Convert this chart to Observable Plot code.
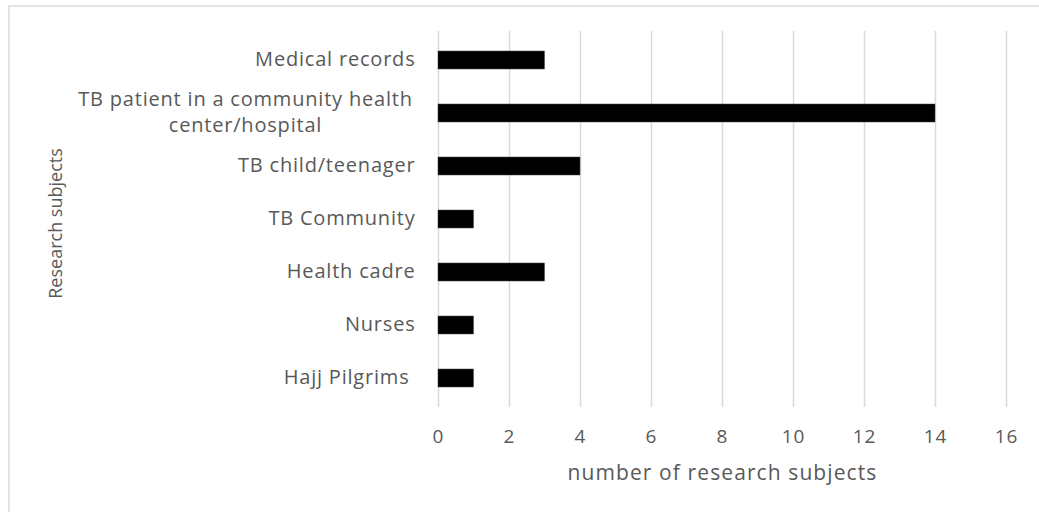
<!DOCTYPE html>
<html>
<head>
<meta charset="utf-8">
<script src="https://cdn.jsdelivr.net/npm/d3@7"></script>
<script src="https://cdn.jsdelivr.net/npm/@observablehq/plot@0.6"></script>
<style>
  html, body { margin: 0; padding: 0; background: #fff; }
  #wrap { position: relative; width: 1039px; height: 512px; overflow: hidden; }
  #frame { position: absolute; left: 8px; top: 5px; right: -2px; bottom: -2px;
           border-top: 2px solid #e4e4e4; border-left: 2px solid #e4e4e4; }
  #chart { position: absolute; left: 0; top: 0; }
  #chart [aria-label="y-axis tick label"], #chart .cat-long { letter-spacing: 0.8px; }
  #chart [aria-label="x-axis tick label"] { letter-spacing: 1px; }
  #chart [aria-label="x-axis label"] { letter-spacing: 1.1px; }
</style>
</head>
<body>
<div id="wrap"><div id="frame"></div><div id="chart"></div></div>
<script>
const categories = [
  "Medical records",
  "TB patient in a community health center/hospital",
  "TB child/teenager",
  "TB Community",
  "Health cadre",
  "Nurses",
  "Hajj Pilgrims"
];
const values = [3, 14, 4, 1, 3, 1, 1];
const xTicks = [0, 2, 4, 6, 8, 10, 12, 14, 16];
const longLabel = "TB patient in a community health center/hospital";
const longLabelLines = "TB patient in a community health\ncenter/hospital";
const xTitle = "number of research subjects";
const yTitle = "Research subjects";

const data = categories.map((c, i) => ({category: c, value: values[i]}));
const font = "'Open Sans', sans-serif";
const gray = "#595959";

const chart = Plot.plot({
  width: 1039,
  height: 512,
  marginLeft: 438,
  marginRight: 33,
  marginTop: 31,
  marginBottom: 105,
  style: {fontFamily: font, fontSize: "20px", color: gray, background: "transparent"},
  x: {domain: [0, 16], ticks: xTicks},
  y: {domain: categories, paddingInner: 0.665, paddingOuter: 0.335},
  marks: [
    Plot.gridX(xTicks, {stroke: "#d9d9d9", strokeOpacity: 1, strokeWidth: 1.5}),
    Plot.barX(data, {x: "value", y: "category", fill: "#000", stroke: "#444", strokeWidth: 0.5}),
    Plot.axisX({ticks: xTicks, tickSize: 0, tickPadding: 22, fontSize: 19, fill: gray, label: null}),
    Plot.axisX({ticks: [], tickSize: 0, fontSize: 21, fill: gray,
      label: xTitle, labelAnchor: "center", labelArrow: "none", labelOffset: 72}),
    Plot.axisY({tickSize: 0, tickPadding: 23, fontSize: 20, fill: gray, dy: -1,
      tickFormat: d => d === longLabel ? "" : (d === "Hajj Pilgrims" ? "Hajj Pilgrims\u00a0" : d),
      label: null}),
    Plot.text([longLabel], {y: d => d, frameAnchor: "left", text: () => longLabelLines,
      textAnchor: "middle", dx: -193, dy: -3, lineHeight: 1.3, fontSize: 20, fill: gray, className: "cat-long"}),
    Plot.text([yTitle], {frameAnchor: "left", text: d => d, rotate: -90, textAnchor: "middle",
      dx: -382, dy: 4, fontSize: 18, fill: gray})
  ]
});
document.getElementById("chart").append(chart);
</script>
</body>
</html>
